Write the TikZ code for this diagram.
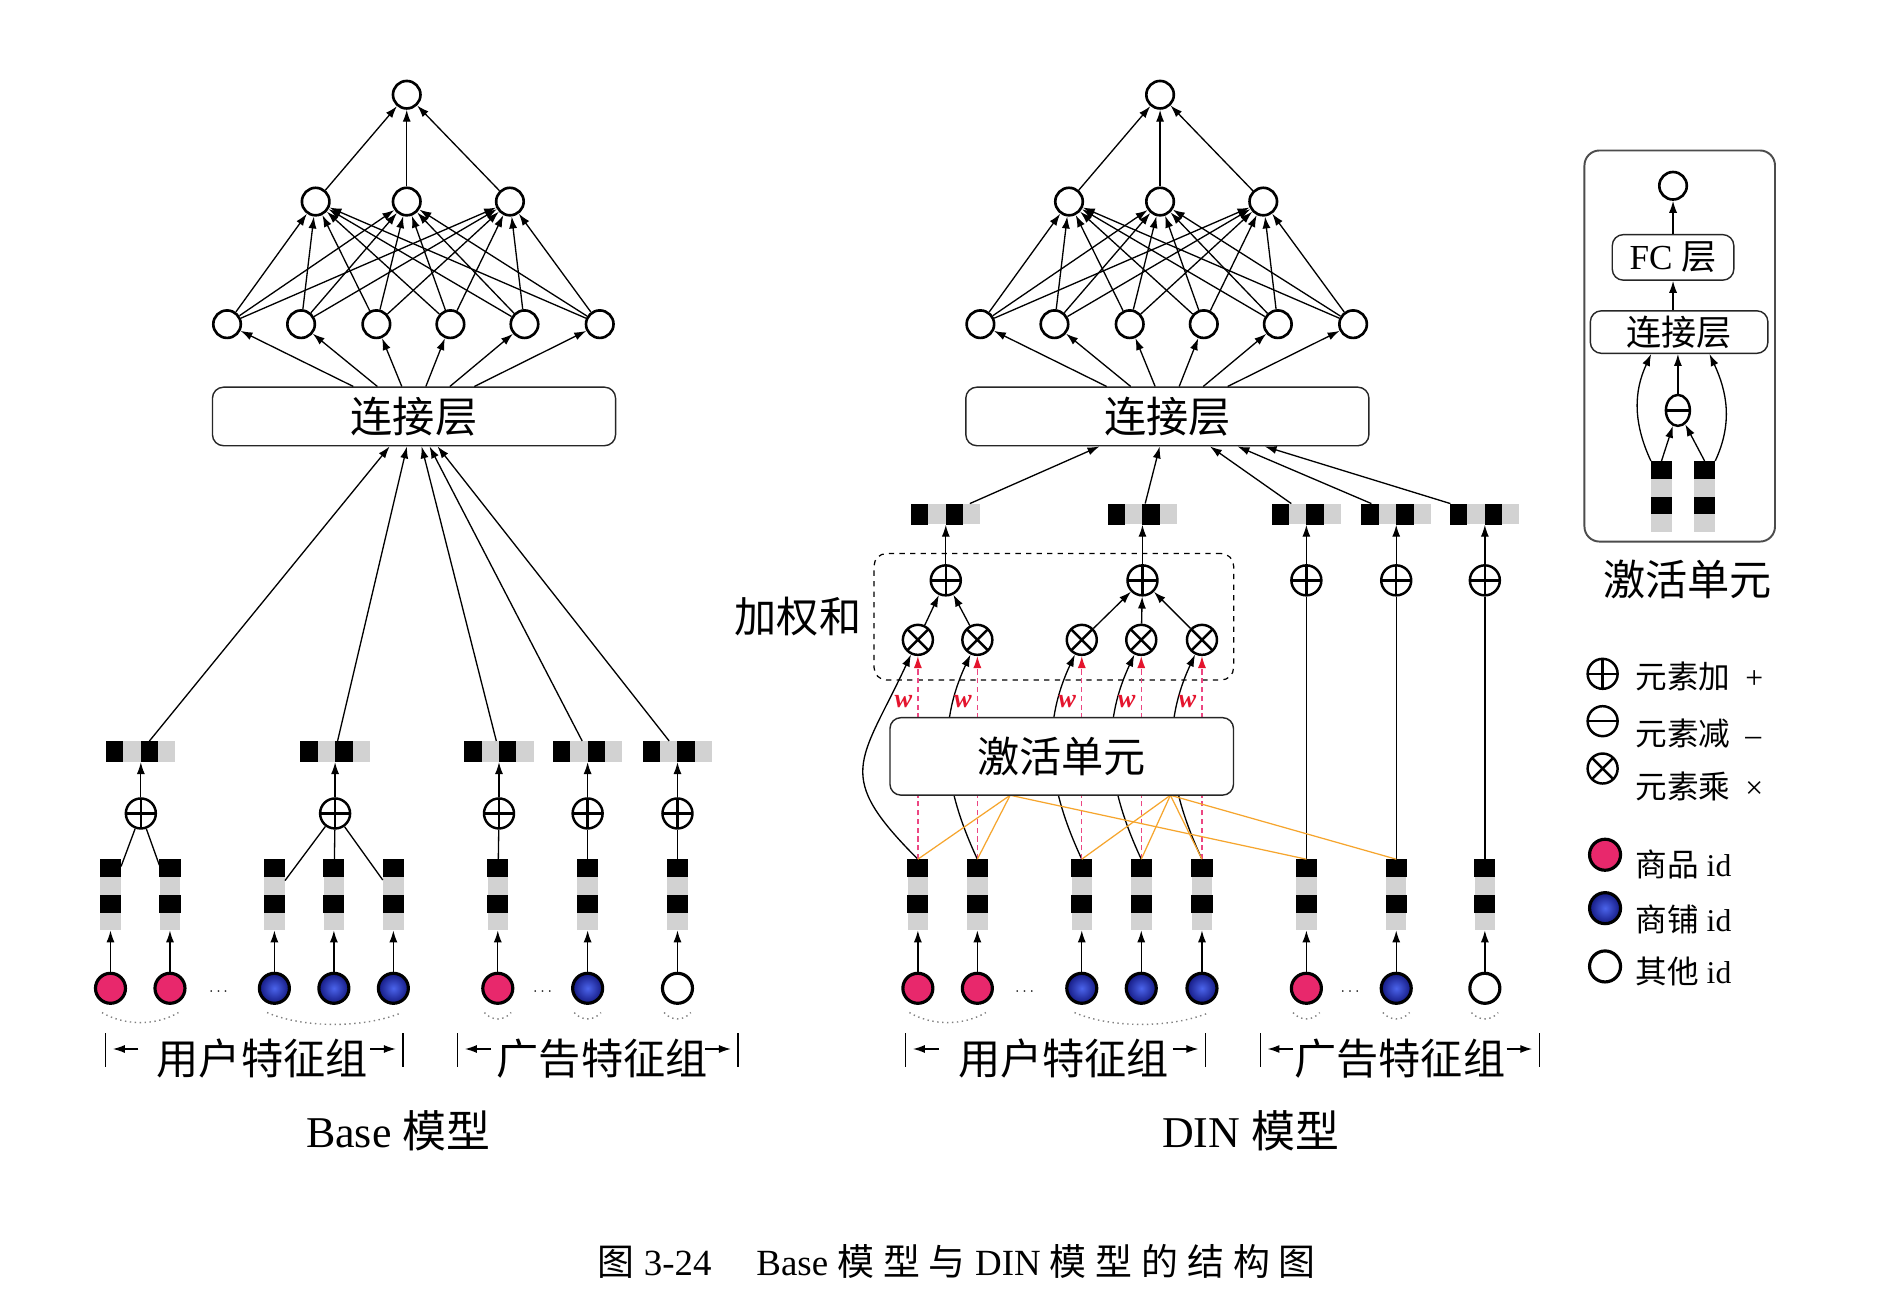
\documentclass[tikz,border=0pt]{standalone}
\usepackage{fontspec}
\setmainfont{Liberation Serif}
\newfontfamily\zhfont{Noto Sans CJK SC}
\newfontfamily\zhcap{Noto Sans CJK SC}[LetterSpace=24]
\usetikzlibrary{arrows.meta,calc,positioning,shapes.geometric}

\definecolor{itempink}{RGB}{232,40,108}
\definecolor{shopin}{RGB}{75,100,235}
\definecolor{shopout}{RGB}{20,25,130}
\definecolor{wred}{RGB}{228,20,45}
\definecolor{dashpink}{RGB}{236,70,130}
\definecolor{linkorange}{RGB}{246,165,45}

% embedding bars: name, x, y
\newcommand\embh[3]{%
  \node[embbox,minimum width=1.38cm,minimum height=0.41cm] (#1) at (#2,#3) {};
  \fill (#1.north west) rectangle ($(#1.south west)!0.25!(#1.south east)$);
  \fill ($(#1.north west)!0.5!(#1.north east)$) rectangle ($(#1.south west)!0.75!(#1.south east)$);
}
\newcommand\embv[3]{%
  \node[embbox,minimum width=0.41cm,minimum height=1.41cm] (#1) at (#2,#3) {};
  \fill (#1.north west) rectangle ($(#1.north east)!0.25!(#1.south east)$);
  \fill ($(#1.north west)!0.5!(#1.south west)$) rectangle ($(#1.north east)!0.75!(#1.south east)$);
}
% feature group span |<-  ->|
\newcommand\featspan[2]{%
  \draw[line width=0.8pt] (#1,851) -- (#1,879) (#2,851) -- (#2,879);
  \draw[conn,->] (#1+27,864) -- (#1+6,864);
  \draw[conn,->] (#2-27,864) -- (#2-6,864);
}

\begin{document}
\begin{tikzpicture}[x=0.02428cm,y=-0.02428cm,
  >={Latex[length=6.8pt,width=4.6pt]},
  conn/.style={line width=0.75pt},
  neuron/.style={circle,draw,line width=1.5pt,fill=white,minimum size=0.55cm,inner sep=0pt},
  opnode/.style={circle,draw,line width=1.4pt,fill=white,minimum size=0.6cm,inner sep=0pt},
  opplus/.style={opnode,path picture={\draw[line width=1.4pt] (path picture bounding box.north) -- (path picture bounding box.south) (path picture bounding box.west) -- (path picture bounding box.east);}},
  optimes/.style={opnode,path picture={\draw[line width=1.4pt] (path picture bounding box.north west) -- (path picture bounding box.south east) (path picture bounding box.south west) -- (path picture bounding box.north east);}},
  opminus/.style={opnode,path picture={\draw[line width=1.4pt] (path picture bounding box.west) -- (path picture bounding box.east);}},
  idnode/.style={circle,draw,line width=1.8pt,minimum size=0.6cm,inner sep=0pt},
  embbox/.style={fill=gray!35,inner sep=0pt},
  layerbox/.style={draw=black!85,line width=0.8pt,rounded corners=0.22cm,fill=white,inner sep=0pt},
  zh/.style={font=\zhfont\fontsize{24}{28}\selectfont},
  lgtext/.style={anchor=west,font=\fontsize{18}{20}\selectfont},
  wlabel/.style={text=wred,font=\bfseries\itshape\fontsize{15}{15}\selectfont},
  redarrow/.style={line width=0.75pt,draw=dashpink,dash pattern=on 3pt off 2pt,-{Latex[length=6.8pt,width=4.6pt,color=wred]}},
  orangeline/.style={line width=0.7pt,draw=linkorange},
  grpdots/.style={dotted,draw=gray,line width=0.8pt}]

  \fill[white] (0,0) rectangle (1560,1079);
  \useasboundingbox (0,0) rectangle (1560,1079);

  % ---------------- Base model ----------------
  \node[neuron] (b0) at (335,78) {};
  \foreach \x [count=\i] in {260,335,420} \node[neuron] (b2\i) at (\x,166) {};
  \foreach \x [count=\i] in {187,248,310,371,432,494} \node[neuron] (b1\i) at (\x,267) {};
  \node[layerbox,zh,minimum width=8.06cm,minimum height=1.17cm] (bcat) at (341,343) {连接层};
  \foreach \i in {1,2,3} \draw[conn,->] (b2\i) -- (b0);
  \foreach \i in {1,...,6} {
    \draw[conn,->] (bcat) -- (b1\i);
    \foreach \j in {1,2,3} \draw[conn,->] (b1\i) -- (b2\j);
  }

  \foreach \x [count=\i] in {116,276,411,484,558} {
    \embh{bh\i}{\x}{619}
    \node[opplus] (bp\i) at (\x,670) {};
    \draw[conn,->] (bp\i) -- (bh\i);
    \draw[conn,->] (bh\i) -- (bcat);
  }
  \foreach \x/\ci/\co [count=\i] in {91/itempink/itempink,140/itempink/itempink,226/shopin/shopout,275/shopin/shopout,324/shopin/shopout,410/itempink/itempink,484/shopin/shopout,558/white/white} {
    \embv{bv\i}{\x}{737}
    \node[idnode,inner color=\ci,outer color=\co] (bi\i) at (\x,814) {};
    \draw[conn,->] (bi\i) -- (bv\i);
  }
  \foreach \v/\p in {1/1,2/1,3/2,4/2,5/2,6/3,7/4,8/5} \draw[conn] (bv\v) -- (bp\p);
  \node[font=\small] (bdot1) at (180,817) {$\cdots$};
  \node[font=\small] (bdot2) at (447,817) {$\cdots$};
  \draw[grpdots] (84,834) .. controls (103,845) and (128,845) .. (147,834);
  \draw[grpdots] (220,834) .. controls (250,847) and (300,847) .. (331,834);
  \foreach \x in {410,484,558} \draw[grpdots] (\x-11,834) .. controls (\x-5,841) and (\x+5,841) .. (\x+11,834);

  \featspan{87}{332}
  \featspan{377}{608}
  \node[zh] (bug) at (216,872) {用户特征组};
  \node[zh] (bag) at (496,872) {广告特征组};
  \node[font=\fontsize{25}{28}\selectfont] (bname) at (328,931) {Base {\zhfont 模型}};

  % ---------------- DIN model ----------------
  \node[neuron] (d0) at (955.5,78) {};
  \foreach \x [count=\i] in {880.5,955.5,1040.5} \node[neuron] (d2\i) at (\x,166) {};
  \foreach \x [count=\i] in {807.5,868.5,930.5,991.5,1052.5,1114.5} \node[neuron] (d1\i) at (\x,267) {};
  \node[layerbox,zh,minimum width=8.06cm,minimum height=1.17cm] (dcat) at (961.5,343) {连接层};
  \foreach \i in {1,2,3} \draw[conn,->] (d2\i) -- (d0);
  \foreach \i in {1,...,6} {
    \draw[conn,->] (dcat) -- (d1\i);
    \foreach \j in {1,2,3} \draw[conn,->] (d1\i) -- (d2\j);
  }

  \node[draw,dashed,line width=0.7pt,rounded corners=0.25cm,minimum width=7.19cm,minimum height=2.53cm] (dsum) at (868,508) {};
  \node[zh,left=0.12cm of dsum] (dsumname) {加权和};

  \foreach \x [count=\i] in {779,941,1076,1150,1223} {
    \embh{dh\i}{\x}{423.5}
    \node[opplus] (dp\i) at (\x,478) {};
    \draw[conn,->] (dp\i) -- (dh\i);
    \draw[conn,->] (dh\i) -- (dcat);
  }
  \foreach \x [count=\i] in {756,805,891,940,990} \node[optimes] (dm\i) at (\x,527) {};
  \foreach \m/\p in {1/1,2/1,3/2,4/2,5/2} \draw[conn,->] (dm\m) -- (dp\p);

  \foreach \x/\ci/\co [count=\i] in {756/itempink/itempink,805/itempink/itempink,891/shopin/shopout,940/shopin/shopout,990/shopin/shopout,1076/itempink/itempink,1150/shopin/shopout,1223/white/white} {
    \embv{dv\i}{\x}{737}
    \node[idnode,inner color=\ci,outer color=\co] (di\i) at (\x,814) {};
    \draw[conn,->] (di\i) -- (dv\i);
  }
  \foreach \v/\p in {6/3,7/4,8/5} \draw[conn] (dv\v) -- (dp\p);
  \node[font=\small] (ddot1) at (844,817) {$\cdots$};
  \node[font=\small] (ddot2) at (1112,817) {$\cdots$};
  \draw[grpdots] (749,834) .. controls (768,845) and (793,845) .. (812,834);
  \draw[grpdots] (885,834) .. controls (915,847) and (965,847) .. (996,834);
  \foreach \x in {1076,1150,1223} \draw[grpdots] (\x-11,834) .. controls (\x-5,841) and (\x+5,841) .. (\x+11,834);

  % attention: weights from the activation unit
  \draw[conn,->] (dv1.north) to[out=135,in=-115,looseness=1.5] (dm1);
  \foreach \i in {2,...,5} \draw[conn,->] (dv\i.north) to[out=115,in=-115] (dm\i);
  \foreach \i in {1,...,5} {
    \draw[redarrow] (dv\i.north) -- (dm\i);
    \node[wlabel] (dw\i) at ($(dm\i)+(-12,51)$) {w};
  }
  \coordinate (oa) at (832,655);
  \coordinate (ob) at (964,655);
  \foreach \i in {1,2,6} \draw[orangeline] (oa) -- (dv\i.north);
  \foreach \i in {3,4,5,7} \draw[orangeline] (ob) -- (dv\i.north);
  \node[layerbox,zh,minimum width=6.87cm,minimum height=1.55cm] (dact) at (874.5,623) {激活单元};

  \featspan{746}{993}
  \featspan{1038}{1268}
  \node[zh] (dug) at (876,872) {用户特征组};
  \node[zh] (dag) at (1153,872) {广告特征组};
  \node[font=\fontsize{25}{28}\selectfont] (dname) at (1030,931) {DIN {\zhfont 模型}};

  % ---------------- activation unit ----------------
  \node[draw=black!70,line width=1.1pt,rounded corners=0.3cm,minimum width=3.81cm,minimum height=7.82cm] (ubox) at (1383.5,285) {};
  \node[neuron] (iout) at (1378,153) {};
  \node[layerbox,font=\fontsize{20}{22}\selectfont,minimum width=2.43cm,minimum height=0.91cm] (ifc) at (1378,212) {FC {\zhfont 层}};
  \node[layerbox,font=\zhfont\fontsize{20}{22}\selectfont,minimum width=3.55cm,minimum height=0.85cm] (icat) at (1383,273.5) {连接层};
  \node[opminus,ellipse,minimum width=0.48cm,minimum height=0.62cm] (imin) at (1382,338) {};
  \embv{iv1}{1368.5}{409}
  \embv{iv2}{1404}{409}
  \draw[conn,->] (iv1.north west) to[out=115,in=-115] ($(icat.south)+(-23,0)$);
  \draw[conn,->] (iv2.north east) to[out=65,in=-65] ($(icat.south)+(25,0)$);
  \draw[conn,->] (iv1.north) -- (imin);
  \draw[conn,->] (iv2.north) -- (imin);
  \draw[conn,->] (imin) -- (imin |- icat.south);
  \draw[conn,->] (ifc |- icat.north) -- (ifc);
  \draw[conn,->] (ifc) -- (iout);
  \node[zh] (uname) at (1390,477) {激活单元};

  % ---------------- legend ----------------
  \node[opplus] (lgadd) at (1320,555) {};
  \node[lgtext] (lgaddt) at (1342,557) {{\zhfont 元素加}\hspace{0.3cm}+};
  \node[opminus] (lgsub) at (1320,594) {};
  \node[lgtext] (lgsubt) at (1342,604) {{\zhfont 元素减}\hspace{0.3cm}--};
  \node[optimes] (lgmul) at (1320,633) {};
  \node[lgtext] (lgmult) at (1342,648) {{\zhfont 元素乘}\hspace{0.3cm}×};
  \node[idnode,minimum size=0.62cm,inner color=itempink,outer color=itempink] (lgitem) at (1322,704) {};
  \node[lgtext] (lgitemt) at (1342,712) {{\zhfont 商品} id};
  \node[idnode,minimum size=0.62cm,inner color=shopin,outer color=shopout] (lgshop) at (1322,748) {};
  \node[lgtext] (lgshopt) at (1342,757) {{\zhfont 商铺} id};
  \node[idnode,minimum size=0.62cm,fill=white] (lgother) at (1322,796) {};
  \node[lgtext] (lgothert) at (1342,800) {{\zhfont 其他} id};

  \node[font=\fontsize{21}{24}\selectfont] (cap) at (788,1039) {{\zhcap 图} 3-24\hspace{0.9cm}Base {\zhcap 模型与} DIN {\zhcap 模型的结构图}};
\end{tikzpicture}
\end{document}
